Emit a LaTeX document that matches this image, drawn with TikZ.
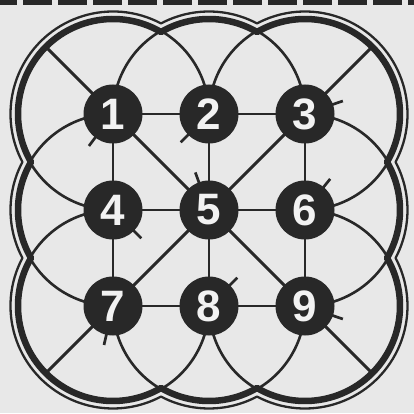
\documentclass[tikz,border=0pt]{standalone}
\usepackage{fontspec}
\newfontfamily\digitfont{Liberation Sans}
\usetikzlibrary{calc}
\pgfdeclarelayer{bg}
\pgfsetlayers{bg,main}
\definecolor{paper}{RGB}{232,232,232}
\definecolor{ink}{RGB}{40,40,40}
\definecolor{digit}{RGB}{242,242,242}
\begin{document}
\begin{tikzpicture}[x=1pt,y=1pt,
  dot/.style={circle, fill=ink, minimum size=59pt, inner sep=0pt, text=digit,
    font=\digitfont\bfseries\fontsize{44}{44}\selectfont},
  gridline/.style={draw=ink, line width=2.9pt},
  arcline/.style={draw=ink, line width=2.6pt},
  border/.style={draw=ink, line width=6.5pt, line join=round},
  outerline/.style={draw=ink, line width=2.3pt, line join=round},
  tickline/.style={draw=ink, line width=2.7pt}]
\useasboundingbox (0,0) rectangle (414,413);
% nodes
\node[dot] (n1) at (113,299) {1};
\node[dot] (n2) at (209,299) {2};
\node[dot] (n3) at (305,299) {3};
\node[dot] (n4) at (113,203) {4};
\node[dot] (n5) at (209,203) {5};
\node[dot] (n6) at (305,203) {6};
\node[dot] (n7) at (113,107) {7};
\node[dot] (n8) at (209,107) {8};
\node[dot] (n9) at (305,107) {9};
\begin{pgfonlayer}{bg}
\fill[paper] (0,0) rectangle (414,413);
\foreach \k in {0,...,12} \fill[ink] ({-12+35*\k},408) rectangle ++(29,5);
\pgfmathsetmacro\ta{acos(48/95)}
\pgfmathsetmacro\tb{acos(48/102.5)}
% thick scalloped border
\draw[border] (n1.center) ++(\ta:95pt)
  arc[start angle=\ta, end angle=270-\ta, radius=95pt]
  arc[start angle=90+\ta, end angle=270-\ta, radius=95pt]
  arc[start angle=90+\ta, end angle=360-\ta, radius=95pt]
  arc[start angle=180+\ta, end angle=360-\ta, radius=95pt]
  arc[start angle=180+\ta, end angle=450-\ta, radius=95pt]
  arc[start angle=270+\ta, end angle=450-\ta, radius=95pt]
  arc[start angle=270+\ta, end angle=540-\ta, radius=95pt]
  arc[start angle=\ta, end angle=180-\ta, radius=95pt] -- cycle;
% thin outer border
\draw[outerline] (n1.center) ++(\tb:102.5pt)
  arc[start angle=\tb, end angle=270-\tb, radius=102.5pt]
  arc[start angle=90+\tb, end angle=270-\tb, radius=102.5pt]
  arc[start angle=90+\tb, end angle=360-\tb, radius=102.5pt]
  arc[start angle=180+\tb, end angle=360-\tb, radius=102.5pt]
  arc[start angle=180+\tb, end angle=450-\tb, radius=102.5pt]
  arc[start angle=270+\tb, end angle=450-\tb, radius=102.5pt]
  arc[start angle=270+\tb, end angle=540-\tb, radius=102.5pt]
  arc[start angle=\tb, end angle=180-\tb, radius=102.5pt] -- cycle;
% cusps
\coordinate (t12) at ($(n1.center)!0.5!(n2.center)+(0,83.14)$);
\coordinate (t23) at ($(n2.center)!0.5!(n3.center)+(0,83.14)$);
\coordinate (b78) at ($(n7.center)!0.5!(n8.center)+(0,-83.14)$);
\coordinate (b89) at ($(n8.center)!0.5!(n9.center)+(0,-83.14)$);
\coordinate (l14) at ($(n1.center)!0.5!(n4.center)+(-83.14,0)$);
\coordinate (l47) at ($(n4.center)!0.5!(n7.center)+(-83.14,0)$);
\coordinate (r36) at ($(n3.center)!0.5!(n6.center)+(83.14,0)$);
\coordinate (r69) at ($(n6.center)!0.5!(n9.center)+(83.14,0)$);
% interior arcs
\draw[arcline] (t12) arc[start angle=120, end angle=180, radius=96pt];
\draw[arcline] (t12) arc[start angle=60, end angle=0, radius=96pt];
\draw[arcline] (t23) arc[start angle=120, end angle=180, radius=96pt];
\draw[arcline] (t23) arc[start angle=60, end angle=0, radius=96pt];
\draw[arcline] (b78) arc[start angle=240, end angle=180, radius=96pt];
\draw[arcline] (b78) arc[start angle=300, end angle=360, radius=96pt];
\draw[arcline] (b89) arc[start angle=240, end angle=180, radius=96pt];
\draw[arcline] (b89) arc[start angle=300, end angle=360, radius=96pt];
\draw[arcline] (l14) arc[start angle=150, end angle=90, radius=96pt];
\draw[arcline] (l14) arc[start angle=210, end angle=270, radius=96pt];
\draw[arcline] (l47) arc[start angle=150, end angle=90, radius=96pt];
\draw[arcline] (l47) arc[start angle=210, end angle=270, radius=96pt];
\draw[arcline] (r36) arc[start angle=30, end angle=90, radius=96pt];
\draw[arcline] (r36) arc[start angle=330, end angle=270, radius=96pt];
\draw[arcline] (r69) arc[start angle=30, end angle=90, radius=96pt];
\draw[arcline] (r69) arc[start angle=330, end angle=270, radius=96pt];
% grid lines
\draw[gridline] (n1.center) -- (n2.center) -- (n3.center);
\draw[gridline] (n4.center) -- (n5.center) -- (n6.center);
\draw[gridline] (n7.center) -- (n8.center) -- (n9.center);
\draw[gridline] (n1.center) -- (n4.center) -- (n7.center);
\draw[gridline] (n2.center) -- (n5.center) -- (n8.center);
\draw[gridline] (n3.center) -- (n6.center) -- (n9.center);
% diagonals to the border
\coordinate (c1) at ($(n1.center)+(135:94pt)$);
\coordinate (c3) at ($(n3.center)+(45:94pt)$);
\coordinate (c7) at ($(n7.center)+(225:94pt)$);
\coordinate (c9) at ($(n9.center)+(315:94pt)$);
\draw[gridline] (c1) -- (n1.center) -- (n5.center) -- (n9.center) -- (c9);
\draw[gridline] (c3) -- (n3.center) -- (n5.center) -- (n7.center) -- (c7);
% tick marks
\foreach \n/\a in {n1/233, n2/225, n3/19, n4/315, n5/110, n6/51, n7/257, n8/45, n9/-19}
  \draw[tickline] (\n.center) ++(\a:27pt) -- ++(\a:13pt);
\end{pgfonlayer}
\end{tikzpicture}
\end{document}
